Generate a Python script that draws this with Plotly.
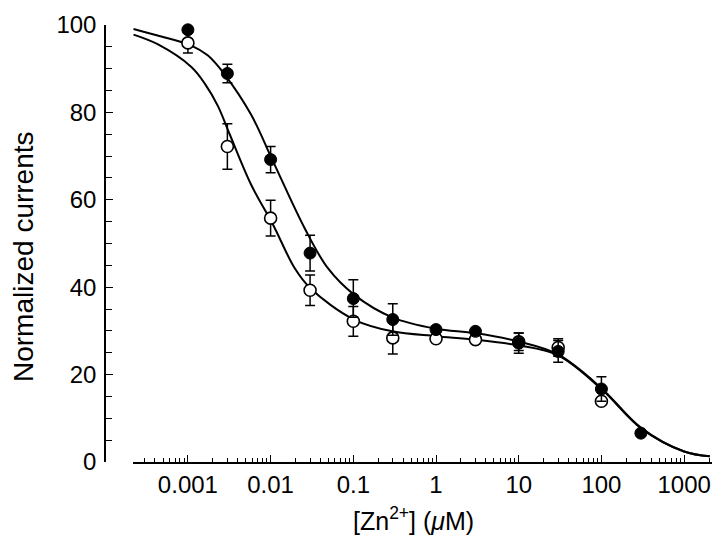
import plotly.graph_objects as go

# Data
zn_conc = [0.001, 0.003, 0.01, 0.03, 0.1, 0.3, 1, 3, 10, 30, 100, 300]
filled_vals = [98.9, 88.9, 69.2, 47.8, 37.4, 32.6, 30.3, 29.9, 27.2, 25.3, 16.7, 6.6]
filled_err = [0, 2.1, 3.0, 4.1, 4.3, 3.6, 0, 0, 2.3, 2.5, 2.8, 0]
open_vals = [95.9, 72.2, 55.8, 39.3, 32.2, 28.4, 28.2, 28.0, 27.5, 26.2, 13.9, None]
open_err = [2.3, 5.2, 4.1, 3.5, 3.4, 3.7, 0, 0, 2.0, 2.0, 0, 0]

# Fitted curves
fit_filled_x = [0.00022, 0.00043, 0.0011, 0.00175, 0.0028, 0.0058, 0.0107, 0.0258, 0.049,
                0.102, 0.296, 1, 2.94, 9.8, 29.9, 100, 302, 1000, 2040]
fit_filled_y = [99.1, 97.6, 95.3, 93.0, 88.6, 79.5, 68.8, 53.5, 44.4,
                38.3, 33.1, 30.5, 29.5, 27.6, 24.6, 16.9, 7.8, 2.4, 1.3]
fit_open_x = [0.00022, 0.00043, 0.0011, 0.0016, 0.0023, 0.0032, 0.0058, 0.0107, 0.0195, 0.0305,
              0.102, 0.296, 1, 2.94, 9.8, 29.9, 100, 302, 1000, 2040]
fit_open_y = [97.8, 95.6, 90.4, 86.6, 81.5, 75.0, 63.5, 54.3, 44.4, 39.7,
              32.6, 29.9, 28.8, 28.0, 26.7, 24.4, 16.7, 7.7, 2.4, 1.3]

x_tickvals = [0.001, 0.01, 0.1, 1, 10, 100, 1000]
x_ticktext = ["0.001", "0.01", "0.1", "1", "10", "100", "1000"]
y_tickvals = [0, 20, 40, 60, 80, 100]

FONT = "Liberation Sans, Arial, Helvetica, sans-serif"

fig = go.Figure()
fig.add_trace(go.Scatter(x=fit_filled_x, y=fit_filled_y, mode="lines",
                         line=dict(color="black", width=2, shape="spline", smoothing=1.0),
                         hoverinfo="skip"))
fig.add_trace(go.Scatter(x=fit_open_x, y=fit_open_y, mode="lines",
                         line=dict(color="black", width=2, shape="spline", smoothing=1.0),
                         hoverinfo="skip"))
fig.add_trace(go.Scatter(x=zn_conc, y=open_vals, mode="markers",
                         marker=dict(symbol="circle", size=12, color="white",
                                     line=dict(color="black", width=1.6)),
                         error_y=dict(type="data", array=open_err, color="black",
                                      thickness=1.5, width=5),
                         cliponaxis=False))
fig.add_trace(go.Scatter(x=zn_conc, y=filled_vals, mode="markers",
                         marker=dict(symbol="circle", size=12, color="black",
                                     line=dict(color="black", width=1)),
                         error_y=dict(type="data", array=filled_err, color="black",
                                      thickness=1.5, width=5),
                         cliponaxis=False))

fig.update_layout(
    width=720, height=542,
    margin=dict(l=97, r=5, t=17, b=88, autoexpand=False),
    paper_bgcolor="white", plot_bgcolor="white",
    showlegend=False,
    font=dict(family=FONT, size=24, color="black"),
    xaxis=dict(
        type="log", range=[-3.664, 3.470], domain=[0.0453, 1],
        automargin=False,
        tickvals=x_tickvals, ticktext=x_ticktext,
        ticks="inside", ticklen=7, tickwidth=1.2, tickcolor="black",
        minor=dict(ticks="inside", ticklen=4, tickwidth=1, tickcolor="black", dtick="D1"),
        showline=True, linecolor="black", linewidth=1.5,
        showgrid=False, zeroline=False,
        tickfont=dict(size=24),
    ),
    yaxis=dict(
        range=[0, 100], anchor="free", position=0,
        automargin=False,
        tickvals=y_tickvals,
        ticks="inside", ticklen=7, tickwidth=1.2, tickcolor="black",
        minor=dict(ticks="inside", ticklen=6, tickwidth=1, tickcolor="black", dtick=5),
        showline=True, linecolor="black", linewidth=1.5,
        showgrid=False, zeroline=False,
        tickfont=dict(size=24), ticklabelstandoff=3,
    ),
    annotations=[
        dict(text="[Zn<sup>2+</sup>] (<i>μ</i>M)", xref="paper", yref="paper",
             x=(405 - 97) / 618, y=-(511 - 454) / 437, xanchor="center", yanchor="middle",
             showarrow=False, font=dict(size=25)),
        dict(text="Normalized currents", xref="paper", yref="paper",
             x=-(97 - 15) / 618, y=(454 - 249) / 437, xanchor="center", yanchor="middle",
             textangle=-90, showarrow=False, font=dict(size=28)),
    ],
)

fig.write_html("out.html")
